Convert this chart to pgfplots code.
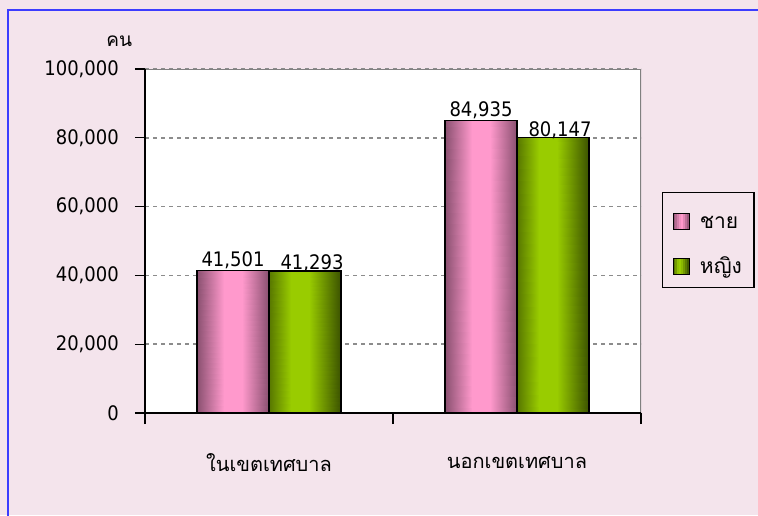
\documentclass[border=0pt]{standalone}
\usepackage{fontspec}
\usepackage{pgfplots}
\pgfplotsset{compat=1.18}
\setmainfont{DejaVu Sans Condensed}
\newfontfamily\thaifont[Script=Thai]{Loma}
\definecolor{bgpink}{HTML}{F4E4EC}
\definecolor{frameblue}{HTML}{3C3CFF}
\definecolor{pinkdark}{HTML}{8A5070}
\definecolor{pinklight}{HTML}{FF99CC}
\definecolor{greendark}{HTML}{3B5200}
\definecolor{greenlight}{HTML}{99CC00}
\definecolor{gridgray}{HTML}{8C8C8C}
\newcommand\pinkswatch{%
  \foreach \x/\p in {0/12,2/37,4/62,6/87,8/100,10/75,12/45,14/15}
    {\fill[pinklight!\p!pinkdark] (\x pt,-12pt) rectangle ++(2pt,16pt);}%
  \draw[black, line width=1.3pt] (0pt,-12pt) rectangle (16pt,4pt);}
\newcommand\greenswatch{%
  \foreach \x/\p in {0/30,2/60,4/90,6/100,8/85,10/60,12/35,14/10}
    {\fill[greenlight!\p!greendark] (\x pt,-12pt) rectangle ++(2pt,16pt);}%
  \draw[black, line width=1.3pt] (0pt,-12pt) rectangle (16pt,4pt);}
\pgfplotsset{
  outline/.style={draw=black, line width=1.3pt, fill=none, mark=none, forget plot},
  labelplot/.style={draw=none, mark=none, forget plot, point meta=explicit symbolic, nodes near coords,
    every node near coord/.append style={font=\fontsize{20}{24}\selectfont, inner sep=0pt, anchor=base, black}},
  gradbar/.style={patch, patch type=rectangle, shader=interp, point meta=explicit, point meta min=0, point meta max=1, forget plot},
}
\begin{document}
\begin{tikzpicture}[x=1pt,y=1pt]
\path[use as bounding box, fill=bgpink] (0,0) rectangle (758,-515);
\draw[frameblue, line width=1.5pt] (8,-516) -- (8,-10) -- (759,-10);
\begin{axis}[
  at={(145pt,-413pt)}, anchor=south west,
  scale only axis, width=496pt, height=344pt,
  xmin=-0.5, xmax=1.5, ymin=0, ymax=100000,
  axis background/.style={fill=white},
  axis x line*=bottom, axis y line*=left,
  axis line style={black, line width=1.5pt},
  tick align=outside,
  major tick length=10pt,
  ytick={0,20000,40000,60000,80000,100000},
  yticklabels={0,{20,000},{40,000},{60,000},{80,000},{100,000}},
  y tick style={black, line width=1.3pt},
  scaled y ticks=false,
  yticklabel style={font=\fontsize{20}{24}\selectfont, anchor=east, inner sep=0pt, xshift=-16pt},
  ymajorgrids,
  grid style={gridgray, line width=1.5pt, dash pattern=on 4pt off 4pt},
  xtick={0,1},
  xticklabels={ในเขตเทศบาล, นอกเขตเทศบาล},
  x tick style={draw=none},
  xticklabel style={font=\thaifont\fontsize{20}{24}\selectfont, anchor=center, yshift=-40pt},
  extra x ticks={-0.5,0.5,1.5},
  extra x tick labels={},
  extra x tick style={x tick style={draw=black, line width=1.3pt}, major tick length=11pt},
  every axis y label/.style={at={(axis description cs:-0.052,1.081)}, anchor=center, font=\thaifont\fontsize{19}{23}\selectfont},
  ylabel={คน},
  legend style={at={(axis description cs:1.0423,0.6424)}, anchor=north west,
    draw=black, line width=1.3pt, fill=bgpink,
    font=\thaifont\fontsize{21}{25}\selectfont,
    row sep=11pt, column sep=8pt, inner xsep=10pt, inner ysep=8pt,
    nodes={inner sep=2pt, text height=26pt, text depth=4pt}},
  legend cell align=left,
]
% --- male (pink) bars: shaded body, outline, value labels
\addplot[gradbar, colormap={pinkmap}{color=(pinkdark) color=(pinklight)}] coordinates {
  (-0.2903,0) [0] (-0.1800,0) [1] (-0.1800,41501) [1] (-0.2903,41501) [0]
  (-0.1800,0) [1] (-0.1103,0) [1] (-0.1103,41501) [1] (-0.1800,41501) [1]
  (-0.1103,0) [1] (0,0) [0] (0,41501) [0] (-0.1103,41501) [1]
  (0.7097,0) [0] (0.8200,0) [1] (0.8200,84935) [1] (0.7097,84935) [0]
  (0.8200,0) [1] (0.8897,0) [1] (0.8897,84935) [1] (0.8200,84935) [1]
  (0.8897,0) [1] (1,0) [0] (1,84935) [0] (0.8897,84935) [1]
};
% --- female (green) bars
\addplot[gradbar, colormap={greenmap}{color=(greendark) color=(greenlight)}] coordinates {
  (0,0) [0.3] (0.0871,0) [1] (0.0871,41293) [1] (0,41293) [0.3]
  (0.0871,0) [1] (0.1597,0) [1] (0.1597,41293) [1] (0.0871,41293) [1]
  (0.1597,0) [1] (0.2903,0) [0] (0.2903,41293) [0] (0.1597,41293) [1]
  (1,0) [0.3] (1.0871,0) [1] (1.0871,80147) [1] (1,80147) [0.3]
  (1.0871,0) [1] (1.1597,0) [1] (1.1597,80147) [1] (1.0871,80147) [1]
  (1.1597,0) [1] (1.2903,0) [0] (1.2903,80147) [0] (1.1597,80147) [1]
};
\addplot[outline] coordinates {(-0.2903,0) (-0.2903,41501) (0,41501) (0,0)} -- cycle;
\addplot[outline] coordinates {(0,0) (0,41293) (0.2903,41293) (0.2903,0)} -- cycle;
\addplot[outline] coordinates {(0.7097,0) (0.7097,84935) (1,84935) (1,0)} -- cycle;
\addplot[outline] coordinates {(1,0) (1,80147) (1.2903,80147) (1.2903,0)} -- cycle;
\addplot[labelplot, every node near coord/.append style={yshift=4pt}] coordinates {(-0.1452,41501) [41,501] (0.8548,84935) [84,935]};
\addplot[labelplot, every node near coord/.append style={yshift=1pt, xshift=7pt}] coordinates {(0.1452,41293) [41,293] (1.1452,80147) [80,147]};
\addlegendimage{legend image code/.code={\pinkswatch}}
\addlegendentry{ชาย}
\addlegendimage{legend image code/.code={\greenswatch}}
\addlegendentry{หญิง}
\draw[gray, line width=1.5pt] (rel axis cs:0,1) -- (rel axis cs:1,1) -- (rel axis cs:1,0);
\draw[black, line width=1.5pt] (rel axis cs:0,1) -- (rel axis cs:0,0) -- (rel axis cs:1,0);
\end{axis}
\end{tikzpicture}
\end{document}
